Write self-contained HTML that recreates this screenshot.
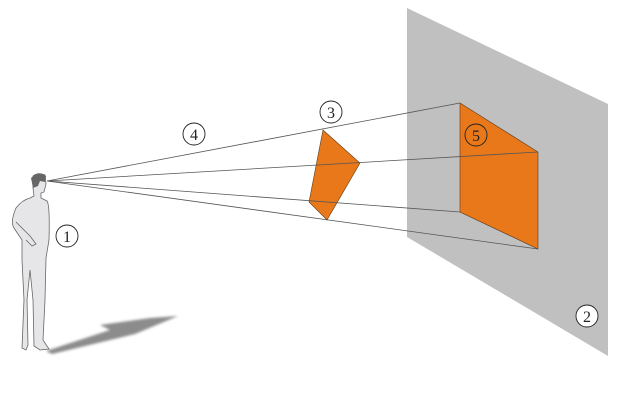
<!DOCTYPE html>
<html><head><style>body{margin:0;background:#fff}svg{display:block}</style></head><body>
<svg width="638" height="410" viewBox="0 0 638 410" xmlns="http://www.w3.org/2000/svg" font-family="Liberation Serif, serif">
<defs><filter id="b"><feGaussianBlur stdDeviation="1.2"/></filter></defs>
<polygon points="407,8 608,104 608,356 407,237" fill="#c0c0c0"/>
<polygon points="46,351 110,330 100,325 150,318 178,316 135,334 52,354" fill="#8c8c8c" filter="url(#b)"/>
<polygon points="460,103 538,152 538,249 460,212" fill="#e8781a" stroke="#5a3a1a" stroke-width="0.6"/>
<polygon points="323,130 360,163 327,220 309,202" fill="#e8781a" stroke="#5a3a1a" stroke-width="0.6"/>
<g stroke="#555" stroke-width="0.8" fill="none">
<line x1="47" y1="181" x2="460" y2="103"/>
<line x1="47" y1="181" x2="538" y2="152"/>
<line x1="47" y1="181" x2="460" y2="212"/>
<line x1="47" y1="181" x2="538" y2="249"/>
</g>
<path d="M33,176 Q38,172 45,175 L46,184 L44,192 L41,193 L41,198 L47,201 Q50,205 49,240 L46,258 L45,300 L43,340 L49,349 L40,350 L34,346 L33,300 L30,270 L27,300 L28,345 L26,350 L22,348 L24,300 L22,260 L22,240 L14,228 Q10,222 16,208 Q22,200 30,198 L34,196 L33,188 Z" fill="#e6e6e8" stroke="#666" stroke-width="0.8"/>
<path d="M16,222 L30,236 L36,244 L32,246 L26,240" fill="none" stroke="#666" stroke-width="0.8"/>
<path d="M31,178 Q38,171 46,176 L45,182 L40,181 L38,186 L33,188 Z" fill="#666"/>
<g fill="#fff" stroke="#222" stroke-width="0.9" font-size="16" text-anchor="middle">
<circle cx="67" cy="236" r="11"/><text x="67" y="242" fill="#222" stroke="none">1</text>
<circle cx="587" cy="316" r="11"/><text x="587" y="322" fill="#222" stroke="none">2</text>
<circle cx="331" cy="112" r="11"/><text x="331" y="118" fill="#222" stroke="none">3</text>
<circle cx="194" cy="134" r="11"/><text x="194" y="140" fill="#222" stroke="none">4</text>
<circle cx="476" cy="135" r="11" fill="none"/><text x="476" y="141" fill="#222" stroke="none">5</text>
</g>
</svg>
</body></html>
